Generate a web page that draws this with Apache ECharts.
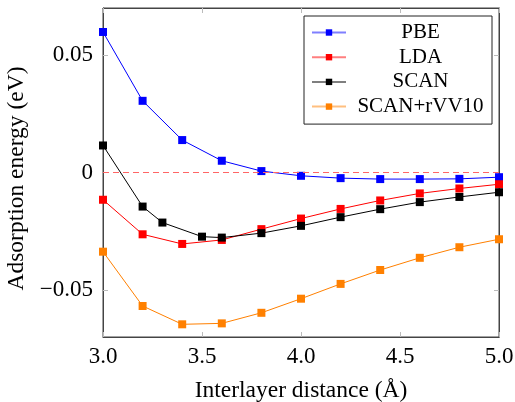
<!DOCTYPE html>
<html>
<head>
<meta charset="utf-8">
<script src="https://cdn.jsdelivr.net/npm/echarts@6/dist/echarts.min.js"></script>
<style>
html,body{margin:0;padding:0;background:#fff;}
#main{width:515px;height:402px;}
</style>
</head>
<body>
<div id="main"></div>
<script>
// interlayer distance (Å) for each series
var xPBE  = [3.0, 3.2, 3.4, 3.6, 3.8, 4.0, 4.2, 4.4, 4.6, 4.8, 5.0];
var xLDA  = [3.0, 3.2, 3.4, 3.6, 3.8, 4.0, 4.2, 4.4, 4.6, 4.8, 5.0];
var xSCAN = [3.0, 3.2, 3.3, 3.5, 3.6, 3.8, 4.0, 4.2, 4.4, 4.6, 4.8, 5.0];
var xVV10 = [3.0, 3.2, 3.4, 3.6, 3.8, 4.0, 4.2, 4.4, 4.6, 4.8, 5.0];

// adsorption energy (eV)
var yPBE  = [0.0598, 0.0305, 0.0138, 0.0050, 0.0006, -0.0014, -0.0024, -0.0028, -0.0028, -0.0027, -0.0020];
var yLDA  = [-0.0116, -0.0263, -0.0304, -0.0287, -0.0241, -0.0196, -0.0155, -0.0119, -0.0089, -0.0068, -0.0050];
var ySCAN = [0.0115, -0.0145, -0.0213, -0.0273, -0.0277, -0.0258, -0.0227, -0.0190, -0.0156, -0.0126, -0.0104, -0.0084];
var yVV10 = [-0.0337, -0.0568, -0.0646, -0.0642, -0.0597, -0.0537, -0.0474, -0.0415, -0.0363, -0.0318, -0.0284];

var names  = ['PBE', 'LDA', 'SCAN', 'SCAN+rVV10'];
var colors = ['#0000ff', '#ff0000', '#000000', '#ff8000'];
var yTicks = [-0.05, 0, 0.05];

function pairs(xs, ys){
	var out = [];
	for (var i = 0; i < xs.length; i++) out.push([xs[i], ys[i]]);
	return out;
}

var FONT = 'Liberation Serif';
var lists = [[xPBE, yPBE], [xLDA, yLDA], [xSCAN, ySCAN], [xVV10, yVV10]];
var series = [];
for (var k = 0; k < names.length; k++){
	series.push({
		name: names[k],
		type: 'line',
		data: pairs(lists[k][0], lists[k][1]),
		symbol: 'rect',
		symbolSize: 8,
		showAllSymbol: true,
		color: colors[k],
		lineStyle: {width: 1, color: colors[k]},
		itemStyle: {color: colors[k]},
		z: 3
	});
}
// dashed zero line
series[0].markLine = {
	silent: true,
	symbol: 'none',
	label: {show: false},
	lineStyle: {color: '#ff6666', type: [6, 4], width: 1},
	data: [{yAxis: 0}]
};

var myChart = echarts.init(document.getElementById('main'));
var option = {
	backgroundColor: '#fff',
	animation: false,
	grid: {
		left: 103, right: 16, top: 8, bottom: 65,
		outerBoundsMode: 'none',
		show: true, borderColor: '#444', borderWidth: 1, backgroundColor: 'transparent'
	},
	legend: {
		data: names,
		orient: 'vertical',
		left: 304, top: 16,
		padding: [6, 2, 7, 7],
		itemGap: 3.7,
		itemWidth: 34,
		itemHeight: 8,
		backgroundColor: '#fff',
		borderColor: '#222',
		borderWidth: 1,
		lineStyle: {opacity: 0.5},
		formatter: function(n){ return '{c|' + n + '}'; },
		textStyle: {
			fontFamily: FONT, fontSize: 21, color: '#000',
			rich: {c: {width: 139, align: 'center', fontFamily: FONT, fontSize: 21, color: '#000', lineHeight: 21}}
		}
	},
	xAxis: [{
		type: 'value', min: 3, max: 5, interval: 0.5,
		name: 'Interlayer distance (Å)',
		nameLocation: 'middle', nameGap: 42,
		nameTextStyle: {fontFamily: FONT, fontSize: 23.5, color: '#000'},
		axisLine: {show: true, onZero: false, lineStyle: {color: '#444'}},
		axisTick: {show: true, inside: true, length: 5, lineStyle: {color: '#bbb'}},
		axisLabel: {fontFamily: FONT, fontSize: 23, color: '#000', margin: 8,
			formatter: function(v){ return v.toFixed(1); }},
		splitLine: {show: false}
	}, {
		type: 'value', min: 3, max: 5, interval: 0.5, position: 'top',
		axisLine: {show: true, onZero: false, lineStyle: {color: '#444'}},
		axisTick: {show: true, inside: true, length: 5, lineStyle: {color: '#bbb'}},
		axisLabel: {show: false},
		splitLine: {show: false}
	}],
	yAxis: [{
		type: 'value', min: -0.07, max: 0.07,
		name: 'Adsorption energy (eV)',
		nameLocation: 'middle', nameGap: 71,
		nameTextStyle: {fontFamily: FONT, fontSize: 23.5, color: '#000', padding: [0, 12, 0, 0]},
		axisLine: {show: true, onZero: false, lineStyle: {color: '#444'}},
		axisTick: {show: true, inside: true, length: 5, lineStyle: {color: '#bbb'}, customValues: yTicks},
		axisLabel: {fontFamily: FONT, fontSize: 23, color: '#000', margin: 10, customValues: yTicks,
			formatter: function(v){
				if (Math.abs(v) < 1e-9) return '0';
				return (v < 0 ? '\u2212' : '') + Math.abs(v).toFixed(2);
			}},
		splitLine: {show: false}
	}, {
		type: 'value', min: -0.07, max: 0.07, position: 'right',
		axisLine: {show: true, onZero: false, lineStyle: {color: '#444'}},
		axisTick: {show: true, inside: true, length: 5, lineStyle: {color: '#bbb'}, customValues: yTicks},
		axisLabel: {show: false},
		splitLine: {show: false}
	}],
	series: series
};
myChart.setOption(option);
</script>
</body>
</html>
